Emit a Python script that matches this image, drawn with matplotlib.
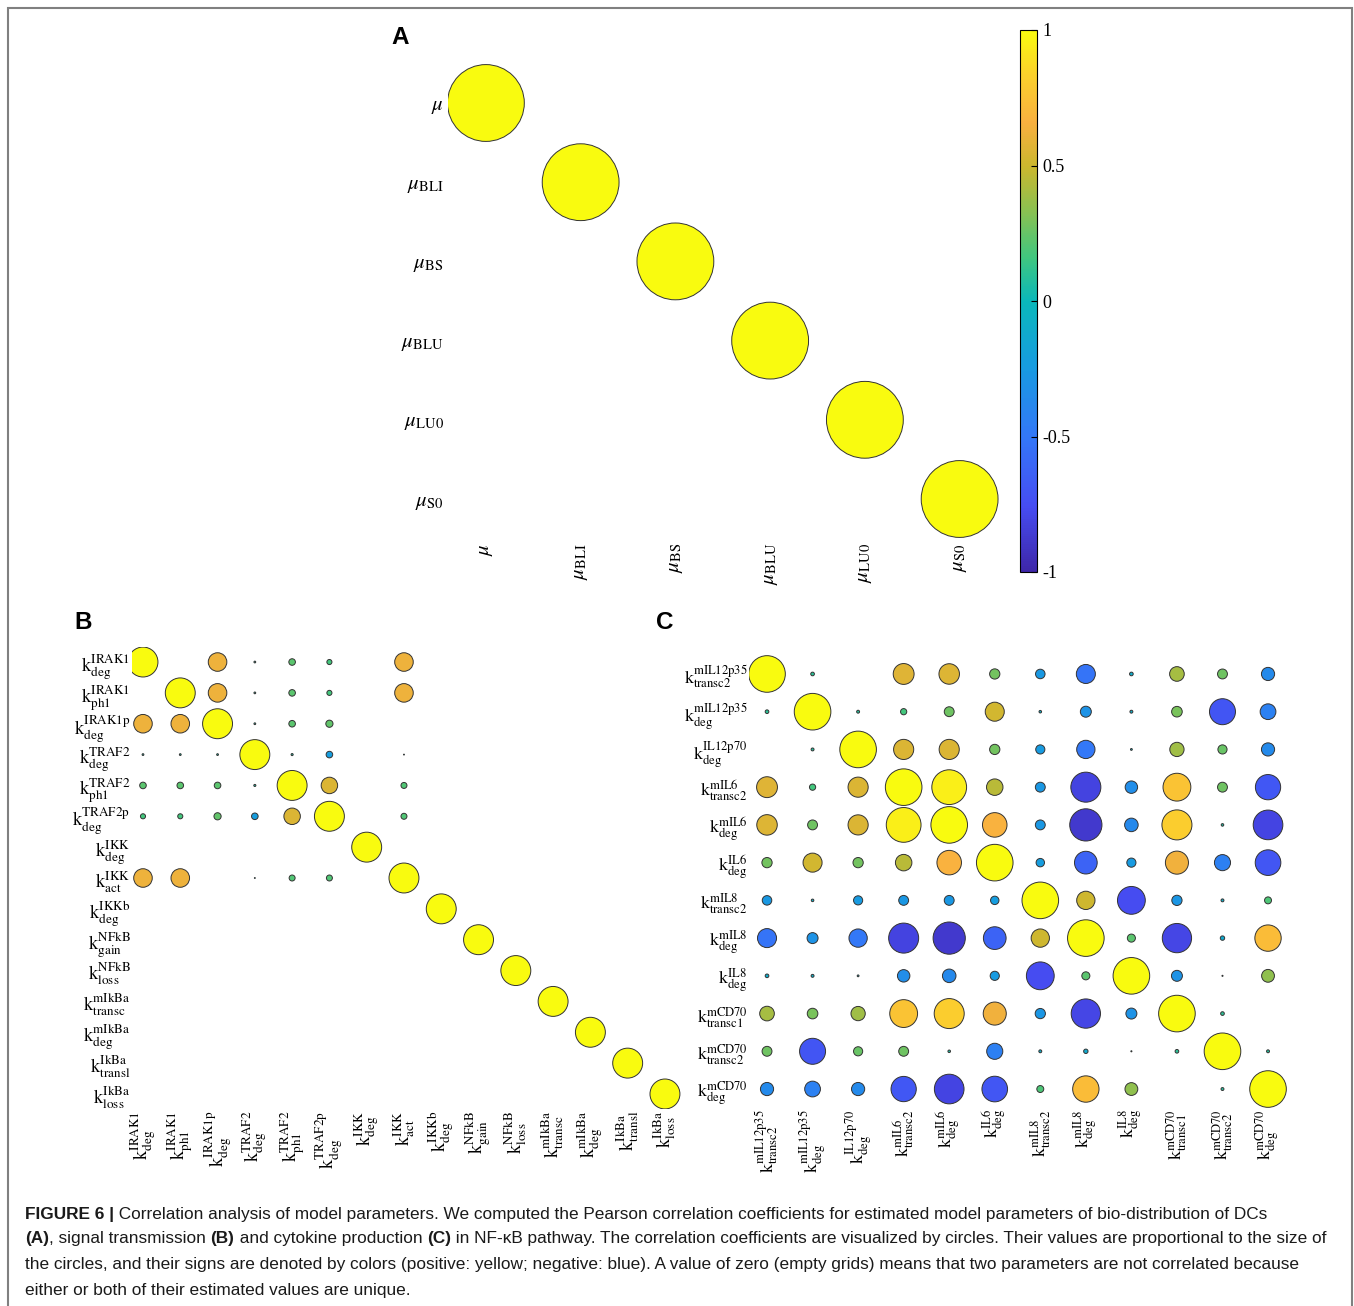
import matplotlib
matplotlib.use('Agg')
import matplotlib.pyplot as plt
import numpy as np
from matplotlib import font_manager
from matplotlib.colors import LinearSegmentedColormap, Normalize
from matplotlib.cm import ScalarMappable
from matplotlib.patches import Rectangle

# ---- data ----
a_subs = ['', 'BLI', 'BS', 'BLU', 'LU0', 'S0']
corr_a = np.eye(6)

b_params = [('IRAK1', 'deg'), ('IRAK1', 'ph1'), ('IRAK1p', 'deg'), ('TRAF2', 'deg'),
            ('TRAF2', 'ph1'), ('TRAF2p', 'deg'), ('IKK', 'deg'), ('IKK', 'act'),
            ('IKKb', 'deg'), ('NFkB', 'gain'), ('NFkB', 'loss'), ('mIkBa', 'transc'),
            ('mIkBa', 'deg'), ('IkBa', 'transl'), ('IkBa', 'loss')]
corr_b_top = [
    [1, 0, .62, .06, .22, .17, 0, .62],
    [0, 1, .62, .06, .22, .17, 0, .62],
    [.62, .62, 1, .06, .22, .24, 0, 0],
    [.06, .06, .06, 1, .07, -.22, 0, .03],
    [.22, .22, .22, .07, 1, .55, 0, .20],
    [.17, .17, .24, -.22, .55, 1, 0, .20],
    [0, 0, 0, 0, 0, 0, 1, 0],
    [.62, .62, 0, .03, .20, .20, 0, 1],
]

c_params = [('mIL12p35', 'transc2'), ('mIL12p35', 'deg'), ('IL12p70', 'deg'),
            ('mIL6', 'transc2'), ('mIL6', 'deg'), ('IL6', 'deg'), ('mIL8', 'transc2'),
            ('mIL8', 'deg'), ('IL8', 'deg'), ('mCD70', 'transc1'), ('mCD70', 'transc2'),
            ('mCD70', 'deg')]
corr_c = np.array([
    [1, .10, 0, .57, .56, .28, -.26, -.52, -.10, .40, .27, -.36],
    [.10, 1, .08, .17, .27, .52, -.07, -.30, -.08, .29, -.71, -.43],
    [0, .08, 1, .55, .55, .28, -.25, -.50, -.05, .39, .25, -.36],
    [.57, .17, .55, 1, .95, .45, -.27, -.82, -.34, .76, .27, -.69],
    [.56, .27, .55, .95, 1, .67, -.27, -.88, -.37, .82, .07, -.81],
    [.28, .52, .28, .45, .67, 1, -.23, -.62, -.25, .63, -.44, -.70],
    [-.26, -.07, -.25, -.27, -.27, -.23, 1, .50, -.76, -.28, -.08, .19],
    [-.52, -.30, -.50, -.82, -.88, -.62, .50, 1, .22, -.80, -.12, .72],
    [-.10, -.08, -.05, -.34, -.37, -.25, -.76, .22, 1, -.30, .03, .35],
    [.40, .29, .39, .76, .82, .63, -.28, -.80, -.30, 1, .10, 0],
    [.27, -.71, .25, .27, .07, -.44, -.08, -.12, .03, .10, 1, .08],
    [-.36, -.43, -.36, -.69, -.81, -.70, .19, .72, .35, 0, .08, 1],
])

cbar_ticks = [-1, -0.5, 0, 0.5, 1]
cbar_labels = ['-1', '-0.5', '0', '0.5', '1']

caption_lines = [
    [('FIGURE 6 |', True), (' Correlation analysis of model parameters. We computed the Pearson correlation '
                            'coefficients for estimated model parameters of bio-distribution of DCs', False)],
    [('(A)', True), (', signal transmission ', False), ('(B)', True), (' and cytokine production ', False),
     ('(C)', True), (' in NF-\u03baB pathway. The correlation coefficients are visualized by circles. '
                     'Their values are proportional to the size of', False)],
    [('the circles, and their signs are denoted by colors (positive: yellow; negative: blue). A value of zero '
      '(empty grids) means that two parameters are not correlated because', False)],
    [('either or both of their estimated values are unique.', False)],
]

# parula-like colormap
parula = LinearSegmentedColormap.from_list('parula_like', [
    (0.00, (0.242, 0.150, 0.660)),
    (0.12, (0.275, 0.300, 0.950)),
    (0.25, (0.200, 0.470, 0.970)),
    (0.38, (0.090, 0.610, 0.880)),
    (0.50, (0.040, 0.720, 0.730)),
    (0.58, (0.250, 0.780, 0.500)),
    (0.66, (0.520, 0.760, 0.330)),
    (0.75, (0.800, 0.720, 0.180)),
    (0.83, (0.975, 0.690, 0.250)),
    (0.92, (0.985, 0.820, 0.170)),
    (1.00, (0.976, 0.984, 0.060)),
])

W, H = 1354, 1306
plt.rcParams['font.family'] = ['Liberation Serif', 'DejaVu Serif']
plt.rcParams['mathtext.fontset'] = 'stix'

fig = plt.figure(figsize=(W / 100, H / 100), dpi=100)


def px_axes(left, top, right, bottom):
    return fig.add_axes([left / W, 1 - bottom / H, (right - left) / W, (bottom - top) / H])


def bubble_panel(ax, mat, labels, fs, x0, pad):
    n = mat.shape[0]
    ii, jj = np.nonzero(mat)
    vals = mat[ii, jj]
    row_pt = ax.get_position().height * H / 100 * 72 / (n + 0.0)
    ax.scatter(jj + 1, ii + 1, s=(np.abs(vals) * row_pt * 0.97) ** 2, c=vals, cmap=parula,
               vmin=-1, vmax=1, edgecolors='#333333', linewidths=0.7, zorder=3)
    ax.set_xlim(x0, n + 0.5)
    ax.set_ylim(n + 0.5, 0.5)
    ax.set_xticks(np.arange(1, n + 1))
    ax.set_yticks(np.arange(1, n + 1))
    ax.set_xticklabels(labels, rotation=90, fontsize=fs)
    ax.set_yticklabels(labels, fontsize=fs)
    ax.tick_params(length=0, pad=pad)
    for sp in ax.spines.values():
        sp.set_visible(False)


def k_label(sup, sub):
    return r'$\mathrm{k}^{\mathrm{%s}}_{\mathrm{%s}}$' % (sup, sub)


# panel A
ax_a = px_axes(448, 63.4, 1007, 538.6)
a_labels = [r'$\mu$' if s == '' else r'$\mu_{\mathrm{%s}}$' % s for s in a_subs]
bubble_panel(ax_a, corr_a, a_labels, 15, 0.6, 3)

# panel B (symmetric, lower rows only diagonal)
corr_b = np.eye(len(b_params))
top = np.array(corr_b_top)
corr_b[:top.shape[0], :top.shape[1]] = top
ax_b = px_axes(131.8, 646.6, 683.6, 1109.4)
bubble_panel(ax_b, corr_b, [k_label(*p) for p in b_params], 13.5, 0.7, 1)

# panel C
ax_c = px_axes(748.8, 655.1, 1290.8, 1107.9)
bubble_panel(ax_c, corr_c, [k_label(*p) for p in c_params], 13, 0.6, 1)

# colorbar
cax = px_axes(1020, 30, 1037, 572)
cb = fig.colorbar(ScalarMappable(norm=Normalize(-1, 1), cmap=parula), cax=cax, ticks=cbar_ticks)
cb.set_ticklabels(cbar_labels)
cb.ax.tick_params(direction='in', length=4, width=0.8, labelsize=13, pad=4)
cb.outline.set_linewidth(0.8)

# panel letters
for letter, x, y in [('A', 400, 37), ('B', 83, 622), ('C', 665, 622)]:
    fig.text(x / W, 1 - y / H, letter, ha='center', va='center', fontsize=17.5,
             fontweight='bold', family='Liberation Sans')

# caption, sized so the widest line fits the frame
names = {f.name for f in font_manager.fontManager.ttflist}
cap_font = 'Liberation Sans Narrow' if 'Liberation Sans Narrow' in names else 'Liberation Sans'
renderer = fig.canvas.get_renderer()


def line_width(line, size):
    total = 0.0
    for txt, bold in line:
        t = fig.text(0, 0, txt, fontsize=size, fontweight='bold' if bold else 'normal', family=cap_font)
        total += t.get_window_extent(renderer).width
        t.remove()
    return total


widest = max(line_width(line, 13) for line in caption_lines)
cap_size = 13 * 1300 / widest

for k, line in enumerate(caption_lines):
    x = 25.0
    y = [1214, 1239, 1265, 1290][k]
    for txt, bold in line:
        t = fig.text(x / W, 1 - y / H, txt, ha='left', va='center', fontsize=cap_size,
                     fontweight='bold' if bold else 'normal', family=cap_font, color='#1a1a1a')
        x += t.get_window_extent(renderer).width

# outer frame
fig.add_artist(Rectangle((8 / W, -0.02), (1352 - 8) / W, 1.02 - 8 / H, transform=fig.transFigure,
                         fill=False, ec='#808080', lw=1.5))

fig.savefig('out.png', dpi=100)
plt.close(fig)
